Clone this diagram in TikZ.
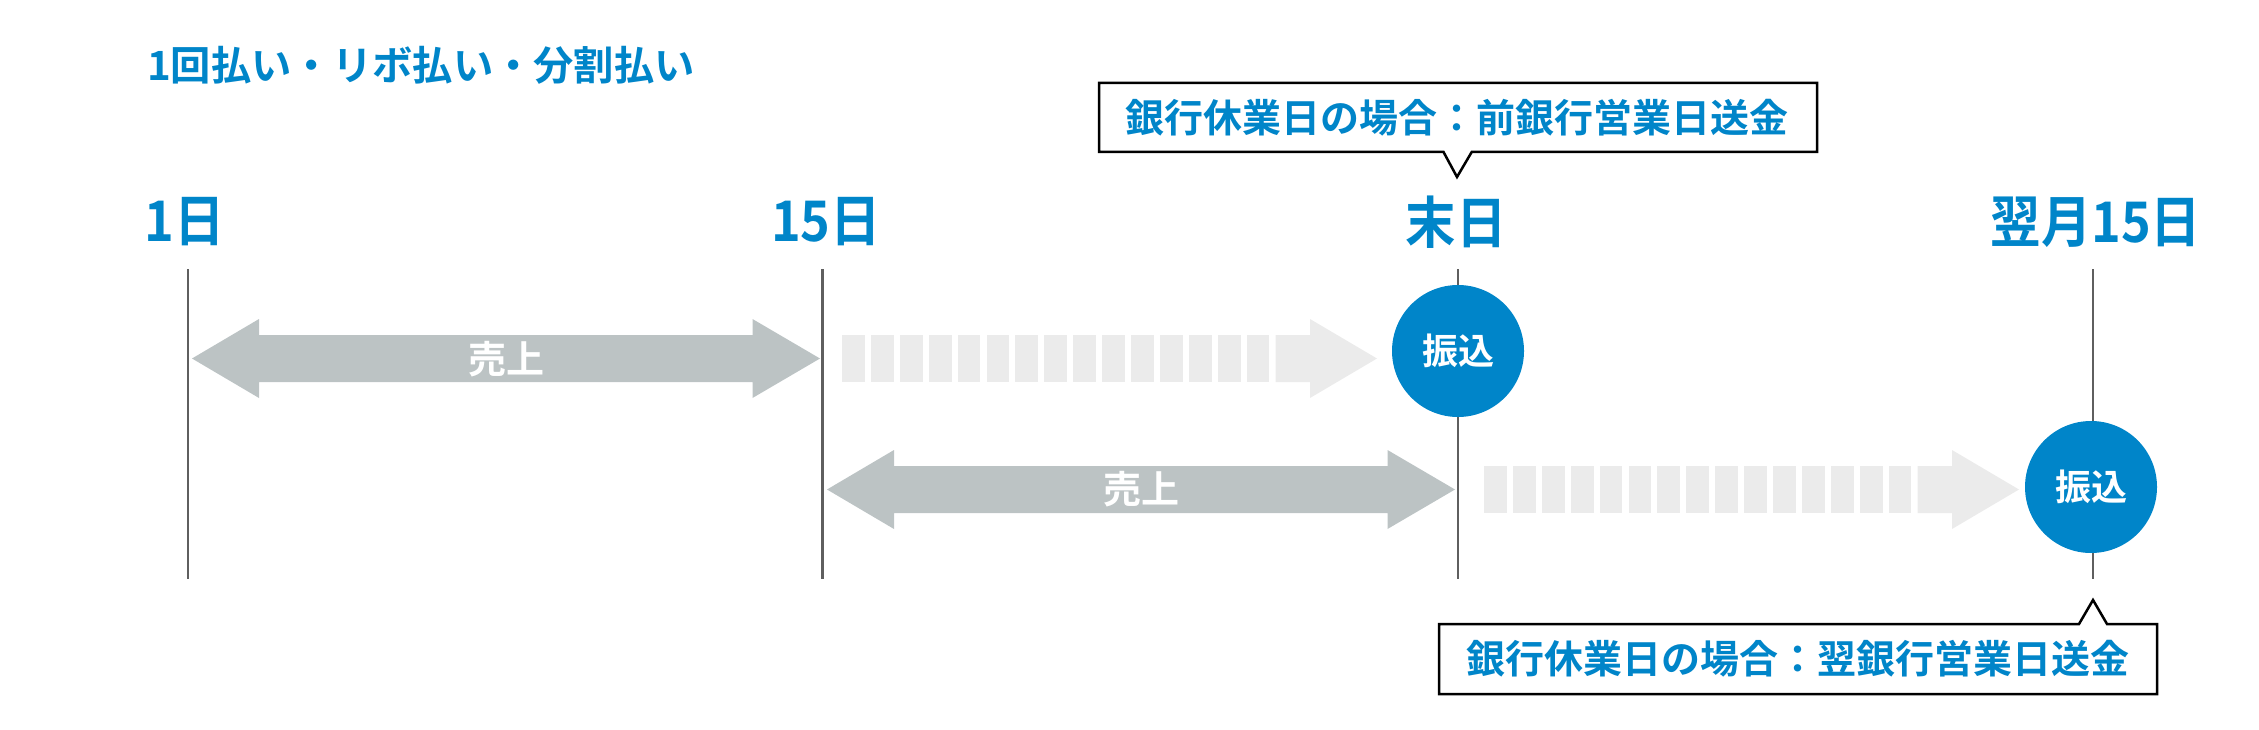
\documentclass[tikz,border=0pt]{standalone}
\usepackage{fontspec}
\setmainfont{Noto Sans CJK JP}[BoldFont={Noto Sans CJK JP Bold}]
\newfontfamily\condjp{Noto Sans CJK JP Bold}[FakeStretch=0.9]
\definecolor{mainblue}{HTML}{0085C9}
\definecolor{arrowgray}{HTML}{BCC3C4}
\definecolor{lightgray}{HTML}{EBEBEB}
\definecolor{linegray}{HTML}{5F5F5F}
\tikzset{
  datelabel/.style={text=mainblue, font=\condjp\fontsize{56}{56}\selectfont, inner sep=0pt},
  titlelabel/.style={text=mainblue, font=\bfseries\fontsize{40.3}{40.3}\selectfont, inner sep=0pt, anchor=west},
  daylinestyle/.style={draw=linegray, line width=2.2pt},
  salesarrow/.style={fill=arrowgray},
  waitarrow/.style={fill=lightgray},
  salestext/.style={text=white, font=\bfseries\fontsize{38}{38}\selectfont, inner sep=0pt},
  paycircle/.style={circle, fill=mainblue, minimum size=132pt, inner sep=0pt, text=white, font=\bfseries\fontsize{36}{36}\selectfont},
  calloutbox/.style={draw=black, line width=2.5pt, fill=white, line join=miter},
  callouttext/.style={text=mainblue, font=\bfseries\fontsize{39}{39}\selectfont, inner sep=0pt}
}
\begin{document}
\begin{tikzpicture}[x=1pt,y=-1pt]
\useasboundingbox (0,0) rectangle (2259,730);

% title
\node[titlelabel] (title) at (147,65) {1回払い・リボ払い・分割払い};

% date labels
\node[datelabel] (d1) at (185,222) {1日};
\node[datelabel] (d15) at (826,222) {15日};
\node[datelabel] (dend) at (1456,222) {末日};
\node[datelabel] (dnext) at (2096,222) {翌月15日};

% vertical day lines
\coordinate (l1t) at (188,269);   \coordinate (l1b) at (188,579);
\coordinate (l2t) at (822.5,269); \coordinate (l2b) at (822.5,579);
\coordinate (l3t) at (1457.7,269);\coordinate (l3b) at (1457.7,579);
\coordinate (l4t) at (2093,269);  \coordinate (l4b) at (2093,579);
\draw[daylinestyle] (l1t) -- (l1b);
\draw[daylinestyle] (l2t) -- (l2b);
\draw[daylinestyle] (l3t) -- (l3b);
\draw[daylinestyle] (l4t) -- (l4b);

% sales arrows (double headed)
\foreach \dx/\dy in {0/0, 635/131}{
  \begin{scope}[shift={(\dx,\dy)}]
    \fill[salesarrow] (192,358.5) -- (259,319) -- (259,335) -- (752.5,335) -- (752.5,319)
      -- (820,358.5) -- (752.5,398) -- (752.5,382) -- (259,382) -- (259,398) -- cycle;
  \end{scope}
}
\node[salestext] (sales1) at (506,359) {売上};
\node[salestext] (sales2) at (1141,489.5) {売上};

% waiting arrows (segmented)
\foreach \dx/\dy in {0/0, 642/131}{
  \begin{scope}[shift={(\dx,\dy)}]
    \foreach \i in {0,...,14}{
      \fill[waitarrow] ({842+\i*28.9},335) rectangle ({864.8+\i*28.9},382);
    }
    \fill[waitarrow] (1275.5,335) -- (1310,335) -- (1310,319) -- (1377,358.5)
      -- (1310,398) -- (1310,382) -- (1275.5,382) -- cycle;
  \end{scope}
}

% payment circles
\node[paycircle] (pay1) at (1458,351) {振込};
\node[paycircle] (pay2) at (2091,487) {振込};

% callouts
\draw[calloutbox] (1099,83) -- (1817,83) -- (1817,152) -- (1471.7,152) -- (1457,177)
  -- (1443.5,152) -- (1099,152) -- cycle;
\node[callouttext] (note1) at (1457,117.5) {銀行休業日の場合：前銀行営業日送金};

\draw[calloutbox] (1439,624) -- (2079,624) -- (2093,600) -- (2107,624) -- (2157,624)
  -- (2157,694) -- (1439,694) -- cycle;
\node[callouttext] (note2) at (1798,659) {銀行休業日の場合：翌銀行営業日送金};
\end{tikzpicture}
\end{document}
